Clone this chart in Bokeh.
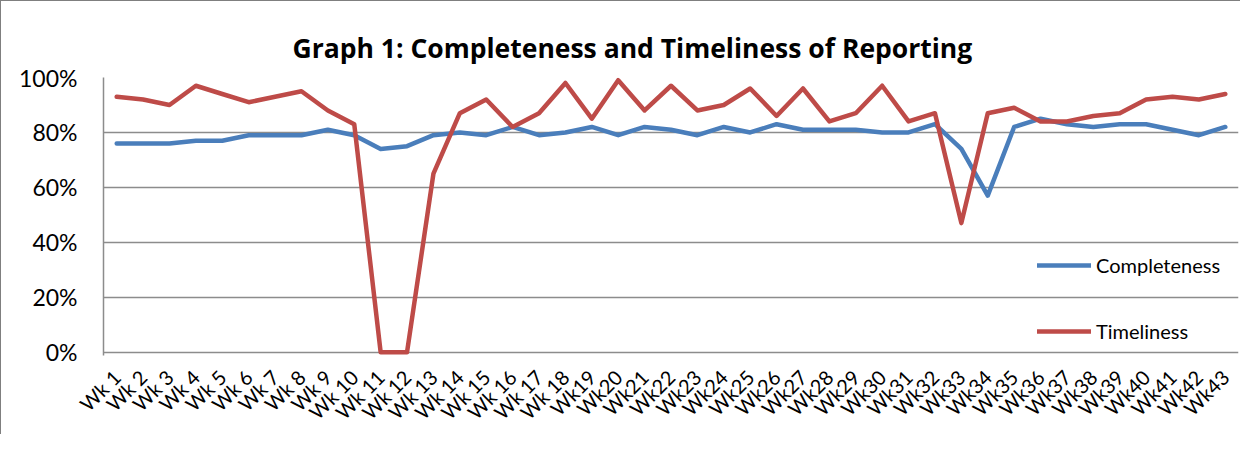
from bokeh.plotting import figure
from bokeh.models import FactorRange, Range1d, FixedTicker, NumeralTickFormatter, Legend, LegendItem
from bokeh.embed import file_html
from bokeh.resources import INLINE
import math

weeks = ["Wk %d" % i for i in range(1, 19)] + ["Wk%d" % i for i in range(19, 44)]

completeness = [76, 76, 76, 77, 77, 79, 79, 79, 81, 79,
                74, 75, 79, 80, 79, 82, 79, 80, 82, 79,
                82, 81, 79, 82, 80, 83, 81, 81, 81, 80,
                80, 83, 74, 57, 82, 85, 83, 82, 83, 83,
                81, 79, 82]

timeliness = [93, 92, 90, 97, 94, 91, 93, 95, 88, 83,
              0, 0, 65, 87, 92, 82, 87, 98, 85, 99,
              88, 97, 88, 90, 96, 86, 96, 84, 87, 97,
              84, 87, 47, 87, 89, 84, 84, 86, 87, 92,
              93, 92, 94]

y_ticks = [0, 0.2, 0.4, 0.6, 0.8, 1.0]
title_text = "Graph 1: Completeness and Timeliness of Reporting"

comp_frac = [v / 100 for v in completeness]
time_frac = [v / 100 for v in timeliness]

BLUE = "#4a7ebb"
RED = "#be4b48"
GRID = "#8c8c8c"
FONT = "Lato"

p = figure(width=1240, height=434, output_backend="svg", toolbar_location=None,
           x_range=FactorRange(factors=weeks), y_range=Range1d(-0.012, 1.0),
           min_border_left=102, min_border_right=3, min_border_top=76,
           min_border_bottom=78)

p.styles = {"border-top": "1px solid #7f7f7f", "border-left": "1px solid #7f7f7f"}

p.title.text = title_text
p.title.text_font = "Open Sans"
p.title.text_font_style = "bold"
p.title.text_font_size = "26.5px"
p.title.text_color = "black"
p.title.align = "left"
p.title.offset = 189
p.title.standoff = 23

r_c = p.line(weeks, comp_frac, line_color=BLUE, line_width=4.5, line_join="round", line_cap="round")
r_t = p.line(weeks, time_frac, line_color=RED, line_width=4.5, line_join="round", line_cap="round")

p.outline_line_color = None
p.background_fill_color = "white"
p.border_fill_color = "white"

p.xgrid.grid_line_color = None
p.ygrid.ticker = FixedTicker(ticks=y_ticks)
p.ygrid.grid_line_color = GRID
p.ygrid.grid_line_width = 1.5

p.yaxis.ticker = FixedTicker(ticks=y_ticks)
p.yaxis.formatter = NumeralTickFormatter(format="0%")
p.yaxis.axis_line_color = GRID
p.yaxis.axis_line_width = 1.5
p.yaxis.major_tick_line_color = None
p.yaxis.minor_tick_line_color = None
p.yaxis.major_tick_out = 0
p.yaxis.major_tick_in = 0
p.yaxis.major_label_standoff = 26
p.yaxis.major_label_text_font = FONT
p.yaxis.major_label_text_font_size = "23px"
p.yaxis.major_label_text_color = "black"

p.xaxis.axis_line_color = None
p.xaxis.major_tick_line_color = None
p.xaxis.minor_tick_line_color = None
p.xaxis.major_tick_out = 0
p.xaxis.major_tick_in = 0
p.xaxis.major_label_orientation = math.pi / 4
p.xaxis.major_label_standoff = 18
p.xaxis.major_label_text_font = FONT
p.xaxis.major_label_text_font_size = "20px"
p.xaxis.major_label_text_color = "black"

legend = Legend(items=[LegendItem(label="Completeness", renderers=[r_c]),
                       LegendItem(label="Timeliness", renderers=[r_t])],
                location=(934, 12), padding=0, margin=0, spacing=42,
                glyph_width=54, glyph_height=24, label_height=24, label_standoff=5,
                label_text_font=FONT, label_text_font_size="20px",
                label_text_color="black",
                background_fill_alpha=0, border_line_alpha=0)
p.add_layout(legend, "center")

open("out.html", "w").write(file_html(p, INLINE))
